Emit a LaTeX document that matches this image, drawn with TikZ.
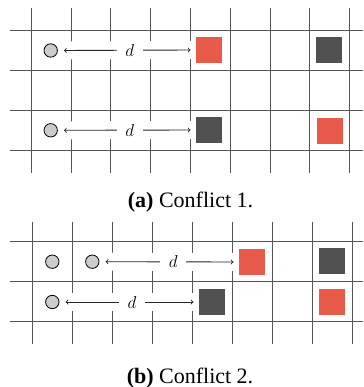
\documentclass[tikz,border=0pt]{standalone}
\usepackage{fontspec}
\setmainfont{Liberation Serif}
\definecolor{hotred}{HTML}{E85B4A}
\definecolor{darkbox}{HTML}{505050}
\definecolor{gridc}{HTML}{555555}
\definecolor{agentgray}{HTML}{CCCCCC}
\tikzset{
  gridline/.style={draw=gridc, line width=0.9pt},
  agent/.style={circle, draw=black, line width=0.8pt, fill=agentgray,
    minimum size=13.4pt, inner sep=0pt, outer sep=6.6pt},
  goal/.style={rectangle, minimum size=26pt, inner sep=0pt, outer sep=5.5pt},
  hotgoal/.style={goal, fill=hotred},
  darkgoal/.style={goal, fill=darkbox},
  mask/.style={draw=white, line width=18pt, shorten <=-1.5pt, shorten >=-1.5pt},
  dist/.style={<->, draw=black!85, line width=0.9pt},
  dlabel/.style={fill=white, inner xsep=8.5pt, inner ysep=1pt,
    font=\fontsize{16}{16}\selectfont},
  subcap/.style={anchor=base, font=\fontsize{22}{24}\selectfont}
}
\begin{document}
\begin{tikzpicture}[x=1pt, y=-1pt]
\useasboundingbox (0,0) rectangle (363,387);

% ---------- panel (a) ----------
\foreach \i in {0,...,8}
  \draw[gridline] ({31.3+39.8*\i},8) -- ({31.3+39.8*\i},173);
\foreach \yy in {30.7,70.3,110.3,150.3}
  \draw[gridline] (10,\yy) -- (363,\yy);

\node[agent]    (a1) at (50.7,50.5) {};
\node[hotgoal]  (r1) at (209,50) {};
\node[darkgoal] (k1) at (329,50) {};
\node[agent]    (a2) at (50.7,130.3) {};
\node[darkgoal] (k2) at (209,130) {};
\node[hotgoal]  (r2) at (330,131) {};

\draw[mask] (a1.east) -- (r1.west);
\draw[mask] (a2.east) -- (k2.west);
\draw[dist] (a1.east) -- node[dlabel, pos=0.52] {$d$} (r1.west);
\draw[dist] (a2.east) -- node[dlabel, pos=0.52] {$d$} (k2.west);

\node[subcap] (capa) at (190.5,207) {\textbf{(a)} Conflict 1.};

% ---------- panel (b) ----------
\foreach \i in {0,...,8}
  \draw[gridline] ({32.3+40*\i},221.7) -- ({32.3+40*\i},344.3);
\foreach \yy in {241.7,281.7,321.7}
  \draw[gridline] (10,\yy) -- (363,\yy);

\node[agent]    (b1) at (52.3,261.7) {};
\node[agent]    (b2) at (92.3,261.7) {};
\node[hotgoal]  (r3) at (252,262) {};
\node[darkgoal] (k3) at (332,261) {};
\node[agent]    (b3) at (52.3,302) {};
\node[darkgoal] (k4) at (212,302) {};
\node[hotgoal]  (r4) at (332,302) {};

\draw[mask] (b2.east) -- (r3.west);
\draw[mask] (b3.east) -- (k4.west);
\draw[dist] (b2.east) -- node[dlabel, pos=0.53] {$d$} (r3.west);
\draw[dist] (b3.east) -- node[dlabel, pos=0.52] {$d$} (k4.west);

\node[subcap] (capb) at (190,383) {\textbf{(b)} Conflict 2.};
\end{tikzpicture}
\end{document}
